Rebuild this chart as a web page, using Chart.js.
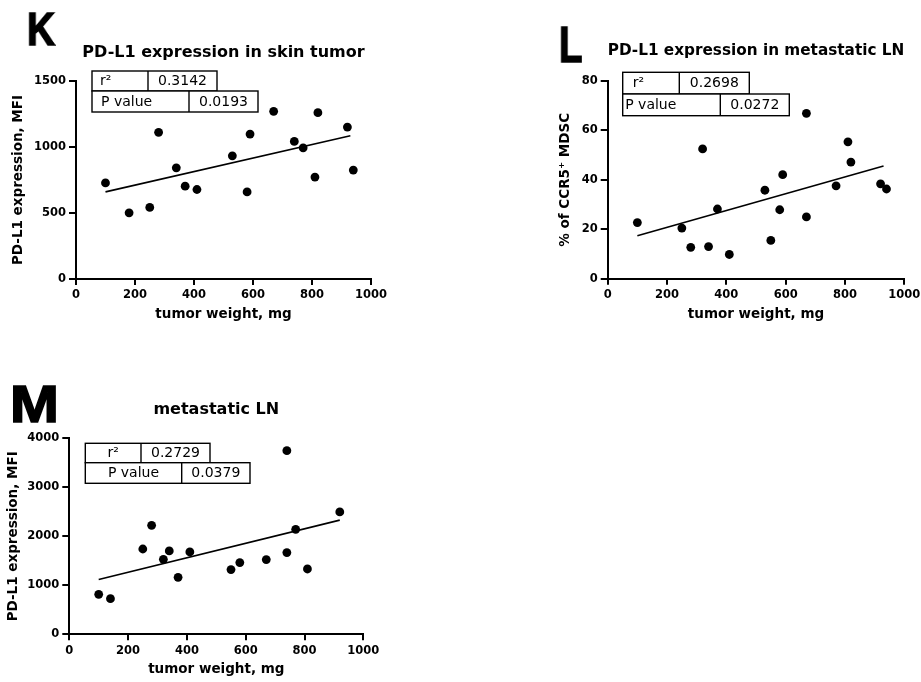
<!DOCTYPE html>
<html><head><meta charset="utf-8">
<script src="https://cdn.jsdelivr.net/npm/chart.js@4.4.1/dist/chart.umd.min.js"></script>
<style>
html,body{margin:0;padding:0;background:#fff;width:921px;height:682px;overflow:hidden;position:relative;}
canvas{position:absolute;}
.lt{position:absolute;font-family:'Liberation Sans',Arial,sans-serif;font-weight:bold;line-height:1;transform-origin:0 0;color:#000;white-space:nowrap;-webkit-text-stroke:1.6px #000;filter:grayscale(100%);will-change:transform;}
</style></head><body>
<div class="lt" style="left:27px;top:6px;font-size:46px;transform:scaleX(0.84)">K</div>
<div class="lt" style="left:559px;top:20.4px;font-size:50px;transform:scaleX(0.77)">L</div>
<div class="lt" style="left:9.5px;top:378.5px;font-size:51px;transform:scaleX(1.15)">M</div>
<canvas id="cK" width="410" height="340" style="left:0;top:0;width:410px;height:340px"></canvas>
<canvas id="cL" width="400" height="340" style="left:530px;top:0;width:400px;height:340px"></canvas>
<canvas id="cM" width="410" height="327" style="left:0;top:355px;width:410px;height:327px"></canvas>
<script>
// ---- data ----
const xTicks = [0, 200, 400, 600, 800, 1000];
const statLabels = ['r\u00B2', 'P value'];

// K: PD-L1 expression in skin tumor
const kTumorWeight = [100,180,250,280,340,370,410,530,580,590,670,740,770,810,820,920,940];
const kPdl1Skin    = [728,501,542,1111,842,703,678,933,660,1098,1270,1042,994,772,1260,1151,825];
const kFitX = [100, 930];
const kFitY = [660, 1085];
const kStats = ['0.3142', '0.0193'];

// L: PD-L1 expression in metastatic LN (% CCR5+ MDSC)
const lTumorWeight = [100,250,280,320,340,370,410,530,550,580,590,670,670,770,810,820,920,940];
const lCcr5Mdsc    = [22.7,20.5,12.7,52.5,13,28.2,9.8,35.8,15.5,27.9,42.1,66.9,25,37.6,55.4,47.2,38.4,36.3];
const lFitX = [100, 930];
const lFitY = [17.4, 45.6];
const lStats = ['0.2698', '0.0272'];

// M: metastatic LN
const mTumorWeight = [100,140,250,280,320,340,370,410,550,580,670,740,740,770,810,920];
const mPdl1LN      = [816,728,1741,2224,1531,1701,1163,1680,1320,1463,1524,3748,1667,2143,1333,2497];
const mFitX = [100, 920];
const mFitY = [1120, 2330];
const mStats = ['0.2729', '0.0379'];

// ---- drawing ----
const FONT = "'DejaVu Sans', 'Liberation Sans', sans-serif";

const statTablePlugin = {
  id: 'statTable',
  afterDatasetsDraw(chart, args, o) {
    if (!o || !o.rows) return;
    const ctx = chart.ctx;
    ctx.save();
    ctx.lineWidth = 1.4;
    ctx.strokeStyle = '#000';
    ctx.font = '14px ' + FONT;
    ctx.textBaseline = 'middle';
    o.rows.forEach((r, i) => {
      ctx.fillStyle = '#fff';
      ctx.fillRect(r.x, r.y, r.w, r.h);
      ctx.strokeRect(r.x, r.y, r.w, r.h);
      ctx.beginPath(); ctx.moveTo(r.div, r.y); ctx.lineTo(r.div, r.y + r.h); ctx.stroke();
      ctx.fillStyle = '#000';
      const cy = r.y + r.h / 2 + 0.5;
      if (r.labelInset != null) {
        ctx.textAlign = 'left';
        ctx.fillText(o.labels[i], r.x + r.labelInset, cy);
      } else {
        ctx.textAlign = 'center';
        ctx.fillText(o.labels[i], (r.x + r.div) / 2, cy);
      }
      ctx.textAlign = 'center';
      ctx.fillText(o.values[i], (r.div + r.x + r.w) / 2, cy);
    });
    ctx.restore();
  }
};

function pts(xs, ys) { return xs.map((v, i) => ({x: v, y: ys[i]})); }
const plain = v => String(v);

function buildChart(id, c) {
  return new Chart(document.getElementById(id), {
    type: 'scatter',
    data: { datasets: [
      { data: pts(c.x, c.y), backgroundColor: '#000', borderColor: '#000', borderWidth: 0,
        pointRadius: 4.4, pointHoverRadius: 4.4 },
      { type: 'line', data: pts(c.fitX, c.fitY), borderColor: '#000', borderWidth: 1.6,
        pointRadius: 0, fill: false, tension: 0 }
    ]},
    options: {
      responsive: false, animation: false, events: [],
      layout: { padding: { left: 0, top: 0, right: c.padRight, bottom: c.padBottom } },
      plugins: {
        legend: { display: false }, tooltip: { enabled: false },
        title: { display: true, text: c.title, fullSize: false, color: '#000',
          font: { family: FONT, weight: 'bold', size: 16, lineHeight: 1.2 },
          padding: { top: c.titleTop, bottom: c.titleBottom } },
        statTable: { rows: c.rows, labels: statLabels, values: c.stats }
      },
      scales: {
        x: { type: 'linear', min: 0, max: 1000,
          afterBuildTicks: s => { s.ticks = xTicks.map(v => ({value: v})); },
          ticks: { color: '#000', font: { family: FONT, weight: 'bold', size: 11.5 }, padding: 3.5, maxRotation: 0, callback: plain },
          grid: { display: true, drawOnChartArea: false, drawTicks: true, tickLength: 6, color: '#000', lineWidth: 2 },
          border: { display: true, color: '#000', width: 2 },
          title: { display: true, text: 'tumor weight, mg', color: '#000',
            font: { family: FONT, weight: 'bold', size: 13.5, lineHeight: 1.2 }, padding: { top: 0, bottom: 1.4 } },
          afterFit: s => { s.height = 45; }
        },
        y: { type: 'linear', min: 0, max: c.yMax,
          afterBuildTicks: s => { s.ticks = c.yTicks.map(v => ({value: v})); },
          ticks: { color: '#000', font: { family: FONT, weight: 'bold', size: 11.5 }, padding: 3, callback: plain },
          grid: { display: true, drawOnChartArea: false, drawTicks: true, tickLength: 7, color: '#000', lineWidth: 2 },
          border: { display: true, color: '#000', width: 2 },
          title: { display: true, text: c.yTitle, color: '#000',
            font: { family: FONT, weight: 'bold', size: 13.5, lineHeight: 1.2 }, padding: { top: c.yTitlePad, bottom: 0 } },
          afterFit: s => { s.width = c.yW; }
        }
      }
    },
    plugins: [statTablePlugin]
  });
}

buildChart('cK', {
  x: kTumorWeight, y: kPdl1Skin, fitX: kFitX, fitY: kFitY, stats: kStats,
  title: 'PD-L1 expression in skin tumor', titleTop: 42.9, titleBottom: 18.9,
  yTitle: 'PD-L1 expression, MFI', yTitlePad: 9.9, yW: 76, yMax: 1500, yTicks: [0, 500, 1000, 1500],
  padRight: 39, padBottom: 16,
  rows: [ {x: 92, y: 71, w: 125, h: 20, div: 148, labelInset: 8},
          {x: 92, y: 91, w: 166, h: 21, div: 189, labelInset: 9} ]
});

buildChart('cL', {
  x: lTumorWeight, y: lCcr5Mdsc, fitX: lFitX, fitY: lFitY, stats: lStats,
  title: 'PD-L1 expression in metastatic LN', titleTop: 41.2, titleBottom: 20.6,
  yTitle: '% of CCR5\u207A MDSC', yTitlePad: 27.4, yW: 77.7, yMax: 80, yTicks: [0, 20, 40, 60, 80],
  padRight: 25.7, padBottom: 16.3,
  rows: [ {x: 92.7, y: 72.3, w: 126.6, h: 21.7, div: 149.3, labelInset: 10},
          {x: 92.7, y: 94, w: 166.6, h: 21.7, div: 190.3, labelInset: 2.5} ]
});

buildChart('cM', {
  x: mTumorWeight, y: mPdl1LN, fitX: mFitX, fitY: mFitY, stats: mStats,
  title: 'metastatic LN', titleTop: 45.4, titleBottom: 18.7,
  yTitle: 'PD-L1 expression, MFI', yTitlePad: 5.1, yW: 69.3, yMax: 4000, yTicks: [0, 1000, 2000, 3000, 4000],
  padRight: 46.7, padBottom: 2.7,
  rows: [ {x: 85.3, y: 88.3, w: 124.7, h: 19.4, div: 141},
          {x: 85.3, y: 107.7, w: 164.7, h: 20.6, div: 181.7} ]
});
</script>
</body></html>
